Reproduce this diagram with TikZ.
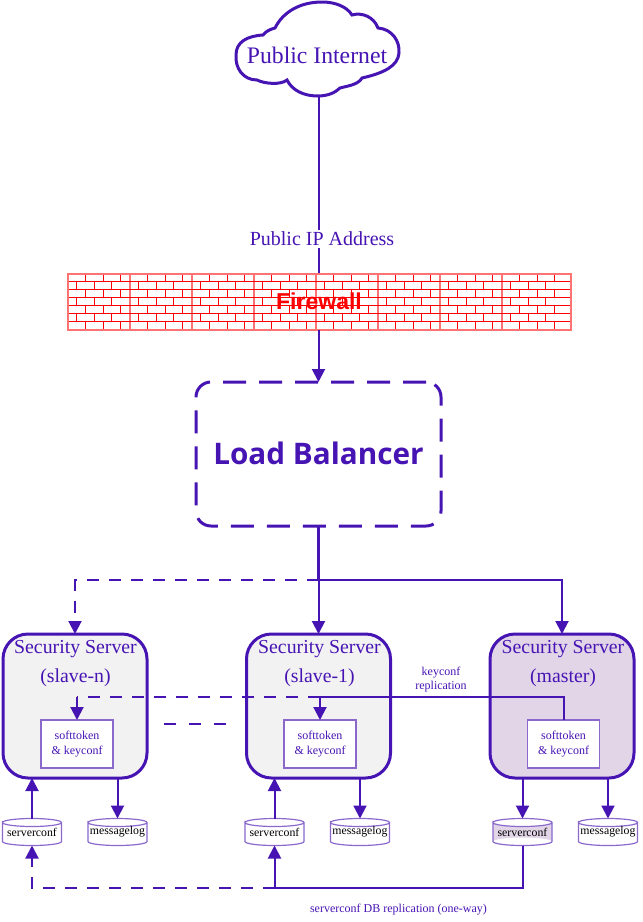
\documentclass[tikz,border=0pt]{standalone}
\usepackage{fontspec}
\setmainfont{Liberation Serif}
\newfontfamily\lbfont{Open Sans}
\newfontfamily\fwfont{Liberation Sans}
\usetikzlibrary{arrows.meta}
\definecolor{vio}{HTML}{4714B4}
\definecolor{violight}{HTML}{8A68CC}
\definecolor{masterfill}{HTML}{E1D5E7}
\definecolor{slavefill}{HTML}{F2F2F2}
\definecolor{brick}{HTML}{FF0000}
\tikzset{
  x=1pt,y=-1pt,
  every node/.style={outer sep=0pt,inner sep=0pt},
  lbl/.style={text=vio,align=center},
  srv/.style={draw=vio,line width=3pt,rounded corners=25pt,minimum width=144pt,minimum height=144pt},
  inbox/.style={draw=violight,line width=1.3pt,fill=white,minimum width=72pt,minimum height=48pt,text=vio,align=center,font=\fontsize{12}{15}\selectfont},
  cyl/.style={minimum width=59pt,minimum height=27pt,text=black,font=\fontsize{11.8}{13}\selectfont},
  cylbody/.style={draw=violight,line width=1.2pt},
  conn/.style={draw=vio,line width=2pt},
  arr/.style={conn,-{Triangle[length=13pt,width=13pt]}},
  dashc/.style={dash pattern=on 12pt off 10pt},
  srvtitle/.style={lbl,font=\fontsize{19.8}{28}\selectfont},
  mortar/.style={brick,line width=1.4pt},
  tileedge/.style={brick!55,line width=2pt},
}
% #1 name, #2 x, #3 y, #4 fill, #5 text
\newcommand{\dbcyl}[5]{%
  \fill[#4] (#2-29.5,#3-9.5) arc[start angle=180,end angle=0,x radius=29.5,y radius=4] -- (#2+29.5,#3+9.5) arc[start angle=0,end angle=-180,x radius=29.5,y radius=4] -- cycle;
  \draw[cylbody] (#2-29.5,#3-9.5) arc[start angle=180,end angle=0,x radius=29.5,y radius=-4] arc[start angle=0,end angle=-180,x radius=29.5,y radius=-4] -- (#2-29.5,#3+9.5) arc[start angle=180,end angle=360,x radius=29.5,y radius=-4] -- (#2+29.5,#3-9.5);
  \node[cyl] (#1) at (#2,#3) {#5};
}
\begin{document}
\begin{tikzpicture}
\useasboundingbox (0,0) rectangle (643,922);
% cloud
\draw[vio,line width=3pt,fill=white] (318,96)
  .. controls (303,96) and (292,90) .. (287,80)
  .. controls (281,85) and (265,84) .. (257,80)
  .. controls (243,80) and (235,68) .. (236,55)
  .. controls (236,42) and (247,36) .. (263,35)
  .. controls (266,31) and (271,29) .. (275,28)
  .. controls (283,12) and (300,2) .. (322,2)
  .. controls (336,2) and (347,7) .. (352,15)
  .. controls (362,12) and (374,17) .. (378,28)
  .. controls (392,29) and (400,41) .. (399,53)
  .. controls (398,66) and (384,73) .. (362,78)
  .. controls (358,85) and (347,86) .. (340,88)
  .. controls (335,93) and (327,96) .. (318,96) -- cycle;
\node[lbl,font=\fontsize{23.7}{26}\selectfont] (cloud) at (317,55) {Public Internet};
\coordinate (cloudb) at (318.5,96);
% firewall
\node[minimum width=504pt,minimum height=57pt] (fw) at (319,301.5) {};
\foreach \tx in {67,129,191,253,315,377,439,501}{
  \foreach \ya/\yb in {273.5/281.5,289.5/297.5,305.5/313.5,321.5/329.5}{
    \foreach \dx in {18,36,53}
      \draw[mortar] ({\tx+\dx+.5},\ya) -- ({\tx+\dx+.5},\yb);
  }
  \foreach \ya/\yb in {281.5/289.5,297.5/305.5,313.5/321.5}{
    \foreach \dx in {9,27,44}
      \draw[mortar] ({\tx+\dx+.5},\ya) -- ({\tx+\dx+.5},\yb);
  }
  \draw[tileedge] (\tx.5,273) -- (\tx.5,330);
}
\foreach \yy in {281.5,289.5,297.5,305.5,313.5,321.5}
  \draw[mortar] (67,\yy) -- (571,\yy);
\draw[tileedge] (67.5,273.5) rectangle (570.5,329.5);
\node[text=brick,font=\fwfont\bfseries\fontsize{23}{26}\selectfont] (fwtext) at (319,301) {Firewall};
% load balancer
\node[draw=vio,line width=3pt,dash pattern=on 23pt off 13pt,rounded corners=15pt,minimum width=245pt,minimum height=144pt,text=vio,font=\lbfont\bfseries\fontsize{29.7}{34}\selectfont] (lb) at (318.5,454) {\raisebox{2pt}{Load Balancer}};
% servers
\node[srv,fill=slavefill] (srvn) at (75,706) {};
\node[srv,fill=slavefill] (srvo) at (318.5,706) {};
\node[srv,fill=masterfill] (srvm) at (562,706) {};
\node[srvtitle] (tn1) at (75.5,649) {Security Server};
\node[srvtitle] (tn2) at (75.5,677.5) {(slave-n)};
\node[srvtitle] (to1) at (319.5,649) {Security Server};
\node[srvtitle] (to2) at (319.5,677.5) {(slave-1)};
\node[srvtitle] (tm1) at (563,649) {Security Server};
\node[srvtitle] (tm2) at (563,677.5) {(master)};
\node[inbox] (boxn) at (77,744) {softtoken\\\& keyconf};
\node[inbox] (boxo) at (320,744) {softtoken\\\& keyconf};
\node[inbox] (boxm) at (563.5,744) {softtoken\\\& keyconf};
% cylinders
\dbcyl{cfgn}{32}{832}{white}{serverconf}
\dbcyl{msgn}{117.5}{832}{white}{messagelog}
\dbcyl{cfgo}{274.5}{832}{white}{serverconf}
\dbcyl{msgo}{360}{832}{white}{messagelog}
\dbcyl{cfgm}{522.5}{832}{masterfill}{serverconf}
\dbcyl{msgm}{608}{832}{white}{messagelog}
% labels
\node[lbl,fill=white,inner sep=2pt,font=\fontsize{20}{23}\selectfont] (iplabel) at (322,239) {Public IP Address};
\draw[conn] (cloudb) -- (iplabel.north -| cloudb);
\draw[conn] (iplabel.south -| cloudb) -- (fw.north -| cloudb);
\draw[arr] (fw.south -| cloudb) -- (lb.north -| cloudb);
\node[lbl,font=\fontsize{12}{14}\selectfont] (keylabel) at (441,679.5) {keyconf\\replication};
\node[lbl,font=\fontsize{12}{14}\selectfont] (dblabel) at (398.5,909.5) {serverconf DB replication (one-way)};
% load balancer to servers
\coordinate (split) at (318.5,580);
\draw[conn,line width=2.4pt] (lb.south -| split) -- (split);
\draw[arr] (split) -- (srvo.north);
\draw[arr,dashc] (split) -| (srvn.north);
\draw[arr] (split) -| (srvm.north);
% keyconf replication
\coordinate (keyrow) at (564,697);
\coordinate (keyo) at (boxo.north |- keyrow);
\draw[arr] (boxm.north -| keyrow) -- (keyrow) -- (keyo) -- (boxo.north);
\draw[conn,dashc] (keyo) -- (boxn.north |- keyrow);
\draw[arr] (boxn.north |- keyrow) -- (boxn.north);
% ellipsis between servers
\coordinate (gapa) at (164,724);
\coordinate (gapb) at (229,724);
\draw[conn,line width=1.6pt,dash pattern=on 12pt off 13pt] (gapa) -- (gapb);
% servers to databases
\draw[arr] (cfgn.north) -- (cfgn.north |- srvn.south);
\draw[arr] (msgn.north |- srvn.south) -- (msgn.north);
\draw[arr] (cfgo.north) -- (cfgo.north |- srvo.south);
\draw[arr] (msgo.north |- srvo.south) -- (msgo.north);
\draw[arr] (cfgm.north |- srvm.south) -- (cfgm.north);
\draw[arr] (msgm.north |- srvm.south) -- (msgm.north);
% db replication
\coordinate (dbrow) at (523,888);
\coordinate (dbo) at (cfgo.south |- dbrow);
\draw[conn] (cfgm.south) -- (cfgm.south |- dbrow) -- (dbo);
\draw[arr] (dbo) -- (cfgo.south);
\draw[arr,dashc] (dbo) -| (cfgn.south);
\end{tikzpicture}
\end{document}
